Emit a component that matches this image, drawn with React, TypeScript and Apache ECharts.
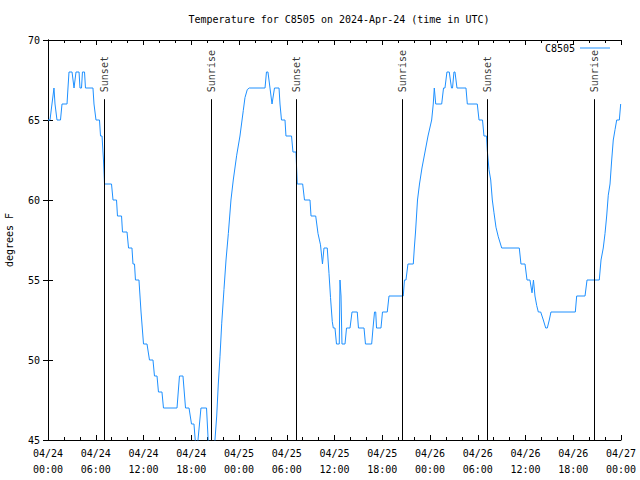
import React, { useEffect, useRef } from "react";
import * as echarts from "echarts";

// Hours since 04/24 00:00 UTC
const hours = [
  0, 0.25, 0.5, 0.75, 0.88, 1.13, 1.57, 1.76, 2.39, 2.51, 2.64, 3.02, 3.27, 3.52, 3.9, 4.02, 4.21, 4.33, 4.59, 4.71,
  5.65, 5.78, 6.03, 6.47, 6.6, 6.79, 6.97, 7.1, 7.98, 8.17, 8.61, 8.73, 9.24, 9.36, 9.93, 10.12, 10.55, 10.68, 10.87, 10.99,
  11.43, 11.69, 12.0, 12.44, 12.75, 13.19, 13.38, 13.7, 13.88, 14.32, 14.51, 16.21, 16.52, 16.96, 17.28, 17.72, 18.03, 18.34, 18.66, 19.22,
  19.92, 20.23, 20.86, 20.98, 21.2, 21.4, 21.61, 21.83, 22.11, 22.37, 22.66, 22.99, 23.28, 23.71, 24.12, 24.54, 24.75, 25.04, 25.29, 27.27,
  27.45, 27.64, 28.15, 28.46, 29.03, 29.15, 29.34, 29.78, 29.9, 30.6, 30.78, 31.16, 31.32, 32.0, 32.23, 32.92, 33.05, 33.64, 33.93, 34.24,
  34.49, 34.68, 35.09, 35.31, 35.5, 35.72, 35.85, 36.06, 36.25, 36.6, 36.69, 36.82, 36.94, 37.32, 37.51, 37.95, 38.2, 38.86, 39.01, 39.71,
  39.89, 40.67, 40.84, 41.03, 41.18, 41.28, 41.84, 42.03, 42.63, 42.85, 44.64, 44.79, 44.98, 45.23, 45.9, 46.03, 46.18, 46.43, 46.68, 46.99,
  47.37, 47.75, 48.21, 48.41, 48.54, 48.72, 49.47, 49.7, 49.88, 50.13, 50.42, 50.7, 50.83, 51.01, 51.14, 51.39, 52.52, 52.69, 53.94, 54.16,
  54.6, 54.78, 55.1, 55.2, 55.41, 55.63, 55.83, 56.04, 56.29, 56.58, 57.01, 59.22, 59.43, 59.94, 60.19, 60.56, 60.82, 61.0, 61.19, 61.41,
  61.61, 61.91, 62.24, 62.54, 62.74, 62.99, 63.2, 66.26, 66.43, 67.48, 67.73, 69.27, 69.49, 69.77, 69.99, 70.2, 70.4, 70.62, 70.83, 71.03,
  71.25, 71.46, 71.79, 71.96, 72,
];

// Temperature, degrees F
const temps = [
  65, 65, 66, 67, 66, 65, 65, 66, 66, 67, 68, 68, 67, 68, 68, 67, 67, 68, 68, 67,
  67, 66, 65, 65, 64, 64, 62.5, 61, 61, 60, 60, 59, 59, 58, 58, 57, 57, 56, 56, 55,
  55, 53, 51, 51, 50, 50, 49, 49, 48, 48, 47, 47, 49, 49, 47, 47, 46, 46, 44, 47,
  47, 44, 44, 45, 46.5, 48.5, 50.2, 52.3, 54.4, 56.25, 57.9, 60, 61.25, 62.8, 64, 65.6, 66.4, 66.9, 67, 67,
  68, 68, 66, 67, 67, 66, 65, 65, 64, 64, 63, 63, 61, 61, 60, 60, 59, 59, 57.9, 57.2,
  56, 57, 57, 55.4, 53.9, 52.4, 52, 52, 51, 51, 55, 54, 51, 51, 52, 52, 53, 53, 52, 52,
  51, 51, 52, 53, 53, 52, 52, 53, 53, 54, 54, 55, 55, 56, 56, 57, 58, 60, 61, 62,
  63, 64, 65, 66, 67, 66, 66, 67, 67, 68, 68, 67, 67, 68, 68, 67, 67, 66, 66, 65,
  65, 64, 64, 63.1, 61.9, 61.25, 60, 59.2, 58.3, 57.7, 57, 57, 56, 56, 55, 55, 54.2, 55, 54, 53.4,
  53, 53, 52.5, 52, 52, 52.5, 53, 53, 54, 54, 55, 55, 56.25, 57, 57.9, 59, 60.3, 61, 62.5, 63.75,
  64.4, 65, 65, 66, 66,
];

const seriesName = "C8505";
const eventHours = [7.07, 20.57, 31.25, 44.52, 55.2, 68.65];
const eventNames = ["Sunset", "Sunrise", "Sunset", "Sunrise", "Sunset", "Sunrise"];
const eventLineTop = 66.3;

const xTickStep = 6;
const yMin = 45;
const yMax = 70;
const yStep = 5;

const FONT = "DejaVu Sans Mono";
const LINE_COLOR = "#1e90ff";

function fmtX(v: number) {
  const day = 24 + Math.floor(v / 24);
  const hh = Math.round(v % 24);
  const pad = (n: number) => (n < 10 ? "0" + n : "" + n);
  return `04/${pad(day)}\n${pad(hh)}:00`;
}

export default function App() {
  const ref = useRef<HTMLDivElement>(null);

  useEffect(() => {
    if (!ref.current) return;
    const chart = echarts.init(ref.current, undefined, { renderer: "svg" });
    const axisLine = { show: true, lineStyle: { color: "#000", width: 1 } };
    const xCommon = {
      type: "value" as const,
      min: 0,
      max: 72,
      interval: xTickStep,
      axisLine,
      axisTick: { show: true, inside: true, length: 5, lineStyle: { color: "#000" } },
      minorTick: { show: true, splitNumber: 3, length: 3, lineStyle: { color: "#000" } },
      splitLine: { show: false },
    };
    const yCommon = {
      type: "value" as const,
      min: yMin,
      max: yMax,
      interval: yStep,
      axisLine,
      axisTick: { show: true, inside: true, length: 5, lineStyle: { color: "#000" } },
      splitLine: { show: false },
    };
    chart.setOption({
      animation: false,
      backgroundColor: "#fff",
      title: {
        text: "Temperature for C8505 on 2024-Apr-24 (time in UTC)",
        left: 334,
        top: 9,
        textAlign: "center",
        textStyle: { fontFamily: FONT, fontSize: 10, fontWeight: "normal", color: "#000" },
      },
      legend: {
        data: [{ name: seriesName, icon: "rect" }],
        right: 30,
        top: 43,
        padding: 0,
        align: "right",
        itemWidth: 30,
        itemHeight: 1,
        itemStyle: { color: LINE_COLOR },
        textStyle: { fontFamily: FONT, fontSize: 10, color: "#000" },
      },
      grid: { left: 48, right: 19, top: 40, bottom: 40, outerBoundsMode: "none", containLabel: false },
      xAxis: [
        {
          ...xCommon,
          position: "bottom",
          axisLabel: {
            fontFamily: FONT,
            fontSize: 10,
            color: "#000",
            lineHeight: 16,
            margin: 5,
            formatter: fmtX,
          },
        },
        { ...xCommon, position: "top", axisLabel: { show: false } },
      ],
      yAxis: [
        {
          ...yCommon,
          position: "left",
          name: "degrees F",
          nameLocation: "middle",
          nameGap: 34,
          nameTextStyle: { fontFamily: FONT, fontSize: 10, color: "#000" },
          axisLabel: { fontFamily: FONT, fontSize: 10, color: "#000", margin: 8 },
        },
        { ...yCommon, position: "right", axisLabel: { show: false } },
      ],
      series: [
        {
          name: "events",
          type: "scatter",
          silent: true,
          symbolSize: 0,
          data: eventHours.map((h, i) => ({ value: [h, eventLineTop], name: eventNames[i] })),
          label: {
            show: true,
            formatter: "{b}",
            position: "top",
            distance: 7,
            rotate: 90,
            align: "left",
            verticalAlign: "middle",
            fontFamily: FONT,
            fontSize: 10,
            color: "#000",
          },
          markLine: {
            silent: true,
            symbol: ["none", "none"],
            label: { show: false },
            lineStyle: { color: "#000", width: 1, type: "solid" },
            data: eventHours.map((h) => [{ coord: [h, yMin] }, { coord: [h, eventLineTop] }]),
          },
        },
        {
          name: seriesName,
          type: "line",
          silent: true,
          symbol: "none",
          showSymbol: false,
          clip: true,
          lineStyle: { color: LINE_COLOR, width: 1 },
          itemStyle: { color: LINE_COLOR },
          data: hours.map((h, i) => [h, temps[i]]),
        },
      ],
    });
    return () => chart.dispose();
  }, []);

  return (
    <div
      ref={ref}
      style={{ position: "fixed", left: 0, top: 0, width: 640, height: 480, background: "#fff" }}
    />
  );
}
